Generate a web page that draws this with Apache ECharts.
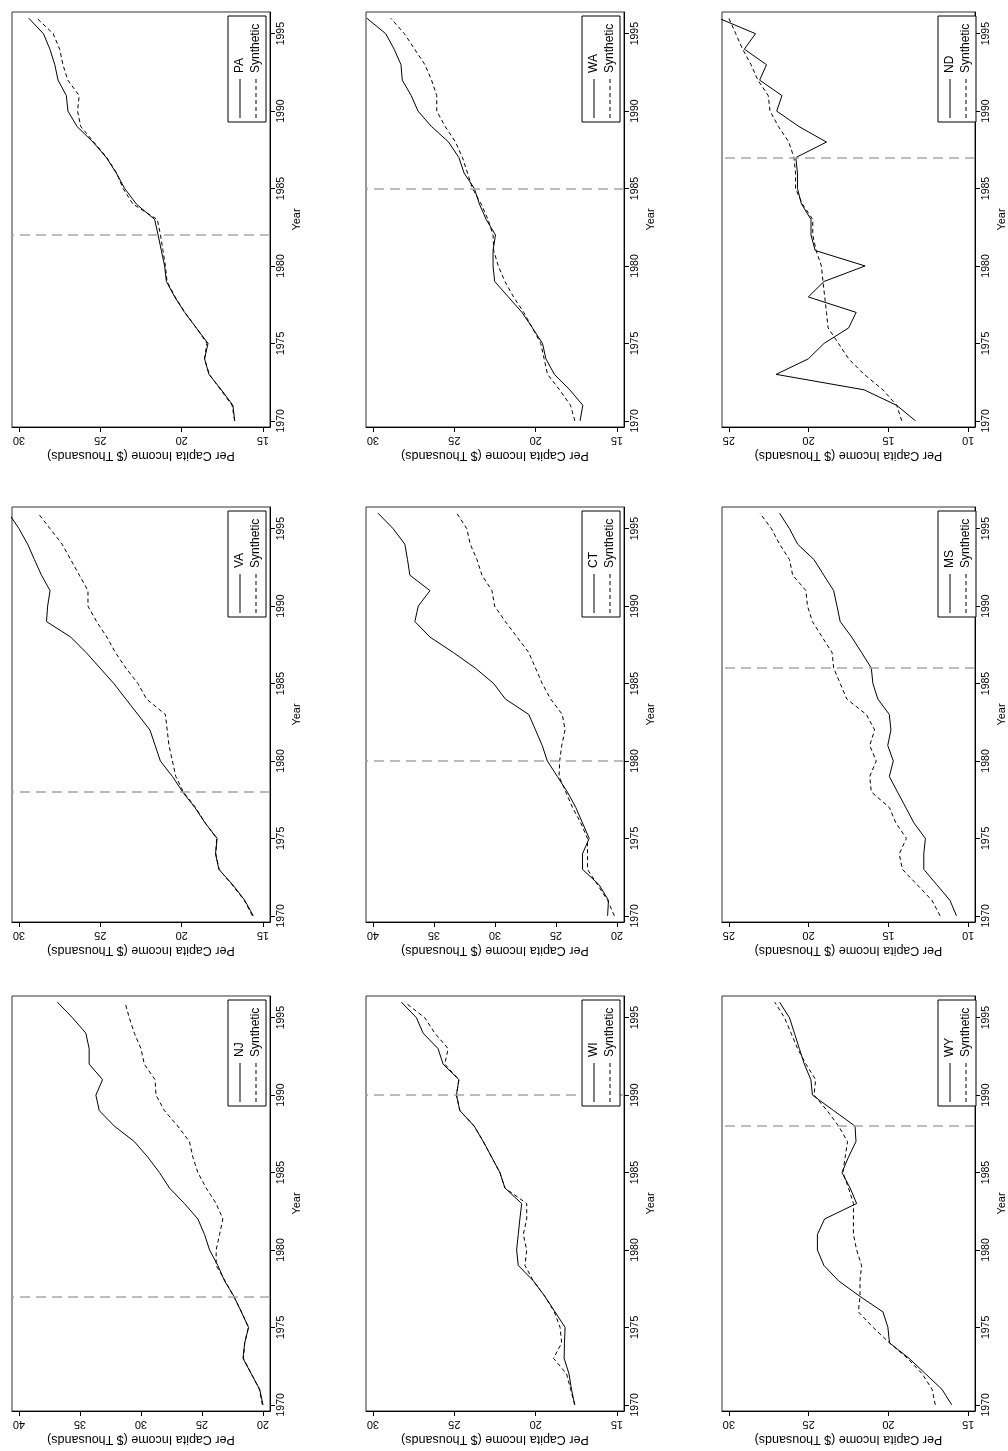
<!DOCTYPE html>
<html>
<head>
<meta charset="utf-8">
<title>Per Capita Income: treated states and synthetic controls</title>
<script src="https://cdn.jsdelivr.net/npm/echarts@6/dist/echarts.min.js"></script>
<style>
  html, body { margin: 0; padding: 0; background: #fff; }
  #chart { width: 1008px; height: 1451px; }
</style>
</head>
<body>
<div id="chart"></div>
<script>
// years on the (rotated) time axis
var years = [1970, 1971, 1972, 1973, 1974, 1975, 1976, 1977, 1978, 1979, 1980, 1981, 1982,
             1983, 1984, 1985, 1986, 1987, 1988, 1989, 1990, 1991, 1992, 1993, 1994, 1995, 1996];
var yearTicks = [1970, 1975, 1980, 1985, 1990, 1995];

// per capita income, $ thousands
var paActual    = [16.74, 16.85, 17.56, 18.32, 18.59, 18.38, 19.1, 19.82, 20.43, 20.94, 21.05, 21.25, 21.45, 21.66, 22.79, 23.5, 24.02, 24.63, 25.45, 26.43, 26.99, 27.09, 27.6, 27.8, 28.1, 28.5, 29.4];
var paSynthetic = [16.74, 16.9, 17.6, 18.3, 18.6, 18.45, 19.1, 19.8, 20.4, 20.9, 21.0, 21.15, 21.3, 21.5, 23.0, 23.6, 24.0, 24.6, 25.4, 26.2, 26.4, 26.3, 27.0, 27.3, 27.5, 27.9, 28.9];
var waActual    = [17.27, 17.1, 17.9, 18.85, 19.37, 19.58, 20.2, 20.84, 21.68, 22.52, 22.62, 22.62, 22.47, 23.04, 23.46, 23.77, 24.4, 24.72, 25.35, 26.4, 27.23, 27.65, 28.2, 28.28, 28.7, 29.22, 30.38];
var waSynthetic = [17.59, 17.86, 18.53, 19.27, 19.48, 19.69, 20.2, 20.73, 21.36, 21.89, 22.3, 22.58, 22.62, 22.93, 23.35, 23.88, 24.19, 24.5, 24.93, 25.56, 26.08, 26.08, 26.4, 26.81, 27.44, 28.07, 28.91];
var ndActual    = [13.3, 14.48, 16.52, 22.04, 20.02, 19.03, 17.49, 17.02, 20.02, 19.03, 16.46, 19.59, 19.85, 19.85, 20.45, 20.7, 20.7, 20.8, 18.88, 20.6, 22.0, 21.67, 23.07, 22.64, 24.03, 23.33, 25.64];
var ndSynthetic = [14.16, 14.48, 15.34, 16.52, 17.49, 18.13, 18.78, 18.88, 18.99, 19.1, 19.2, 19.53, 19.74, 19.74, 20.39, 20.82, 20.82, 20.92, 21.24, 21.89, 22.42, 22.53, 23.18, 23.61, 24.14, 24.57, 25.0];
var vaActual    = [15.6, 16.12, 16.86, 17.71, 17.92, 17.82, 18.56, 19.19, 19.94, 20.57, 21.31, 21.63, 21.95, 22.69, 23.43, 24.17, 25.02, 25.87, 26.82, 28.31, 28.24, 28.09, 28.62, 29.05, 29.47, 30.0, 30.64];
var vaSynthetic = [15.65, 16.15, 16.9, 17.7, 17.9, 17.85, 18.55, 19.15, 19.9, 20.36, 20.57, 20.78, 20.89, 21.0, 22.16, 22.69, 23.43, 24.07, 24.6, 25.23, 25.76, 25.76, 26.29, 26.82, 27.35, 28.09, 28.83];
var ctActual    = [20.77, 20.7, 21.46, 22.83, 22.83, 22.28, 22.83, 23.38, 24.07, 24.89, 25.71, 26.13, 26.68, 27.23, 29.15, 30.11, 31.62, 33.41, 35.33, 36.57, 36.29, 35.33, 36.98, 37.17, 37.39, 38.35, 39.59];
var ctSynthetic = [20.22, 20.77, 21.59, 22.42, 22.42, 22.42, 22.97, 23.65, 24.2, 24.75, 24.7, 24.53, 24.26, 24.48, 25.44, 26.13, 26.68, 27.23, 28.19, 29.15, 30.03, 30.25, 31.07, 31.48, 32.03, 32.31, 33.13];
var msActual    = [10.73, 11.14, 11.96, 12.78, 12.78, 12.68, 13.4, 13.91, 14.43, 14.94, 14.69, 15.04, 14.84, 14.94, 15.66, 15.97, 16.07, 16.68, 17.3, 18.02, 18.22, 18.43, 19.05, 19.66, 20.69, 21.2, 21.82];
var msSynthetic = [11.76, 12.27, 13.19, 14.12, 14.32, 13.87, 14.53, 14.94, 16.07, 16.17, 15.76, 16.17, 15.86, 16.38, 17.61, 18.02, 18.43, 18.53, 19.15, 19.76, 20.07, 20.17, 21.0, 21.2, 21.82, 22.33, 23.05];
var njActual    = [20.0, 20.27, 20.96, 21.64, 21.5, 21.18, 21.78, 22.38, 23.15, 23.7, 24.38, 24.79, 25.34, 26.44, 27.67, 28.49, 29.45, 30.55, 32.19, 33.42, 33.7, 33.15, 34.25, 34.25, 34.52, 35.62, 36.85];
var njSynthetic = [20.05, 20.3, 20.95, 21.6, 21.5, 21.2, 21.75, 22.4, 23.1, 23.84, 23.84, 23.56, 23.29, 23.84, 24.66, 25.34, 25.75, 26.03, 26.99, 28.08, 28.77, 28.85, 29.73, 30.0, 30.55, 30.96, 31.32];
var wiActual    = [17.6, 17.8, 17.95, 18.25, 18.23, 18.19, 18.81, 19.43, 20.14, 21.07, 21.17, 21.07, 20.97, 20.86, 21.89, 22.2, 22.71, 23.22, 23.78, 24.66, 24.87, 24.72, 25.69, 26.0, 26.92, 27.33, 28.25];
var wiSynthetic = [17.6, 17.85, 18.1, 18.9, 18.4, 18.5, 18.85, 19.43, 20.14, 20.66, 20.55, 20.76, 20.55, 20.55, 21.89, 22.2, 22.71, 23.22, 23.78, 24.66, 24.87, 24.72, 25.59, 25.38, 26.2, 26.82, 28.05];
var wyActual    = [16.03, 16.64, 17.67, 18.7, 19.93, 20.03, 20.34, 21.78, 23.12, 24.04, 24.45, 24.45, 24.0, 21.99, 22.4, 22.91, 22.5, 22.03, 22.09, 23.43, 24.76, 24.86, 25.27, 25.58, 25.89, 26.2, 26.82];
var wySynthetic = [17.06, 17.26, 17.88, 18.8, 19.93, 20.96, 21.88, 21.78, 21.78, 21.68, 21.99, 22.19, 22.19, 22.19, 22.5, 22.85, 22.71, 22.56, 23.12, 23.84, 24.66, 24.56, 25.17, 25.69, 26.1, 26.51, 27.12];

// treatment years (grey dashed line)
var paTreat = 1982, waTreat = 1985, ndTreat = 1987;
var vaTreat = 1978, ctTreat = 1980, msTreat = 1986;
var njTreat = 1977, wiTreat = 1990, wyTreat = 1988;

// income tick labels
var ticks15to30 = [15, 20, 25, 30];
var ticks10to25 = [10, 15, 20, 25];
var ticks20to40 = [20, 25, 30, 35, 40];

var panels = [
  { state: 'PA', actual: paActual, synth: paSynthetic, treat: paTreat, ticks: ticks15to30 },
  { state: 'WA', actual: waActual, synth: waSynthetic, treat: waTreat, ticks: ticks15to30 },
  { state: 'ND', actual: ndActual, synth: ndSynthetic, treat: ndTreat, ticks: ticks10to25 },
  { state: 'VA', actual: vaActual, synth: vaSynthetic, treat: vaTreat, ticks: ticks15to30 },
  { state: 'CT', actual: ctActual, synth: ctSynthetic, treat: ctTreat, ticks: ticks20to40 },
  { state: 'MS', actual: msActual, synth: msSynthetic, treat: msTreat, ticks: ticks10to25 },
  { state: 'NJ', actual: njActual, synth: njSynthetic, treat: njTreat, ticks: ticks20to40 },
  { state: 'WI', actual: wiActual, synth: wiSynthetic, treat: wiTreat, ticks: ticks15to30 },
  { state: 'WY', actual: wyActual, synth: wySynthetic, treat: wyTreat, ticks: ticks15to30 }
];

(function() {
    var myChart = echarts.init(document.getElementById('chart'));

    var font = 'Liberation Sans, Arial, Helvetica, sans-serif';
    var colLeft = [12, 366, 722];
    var rowTop = [12, 507, 996];
    var gridW = 258, gridH = 415;

    var grids = [], xAxes = [], yAxes = [], series = [], graphics = [];

    panels.forEach(function(p, i) {
        var left = colLeft[i % 3];
        var top = rowTop[Math.floor(i / 3)];
        var lo = p.ticks[0], hi = p.ticks[p.ticks.length - 1];
        var pad = (hi - lo) * 7 / 244;

        grids.push({
            left: left, top: top, width: gridW, height: gridH,
            show: true, borderColor: '#333', borderWidth: 1
        });

        // income axis: runs along the bottom, high values to the left
        xAxes.push({
            gridIndex: i,
            type: 'value',
            position: 'bottom',
            inverse: true,
            min: lo - pad,
            max: hi + pad,
            axisLine: { show: true, lineStyle: { color: '#000', width: 1 } },
            axisTick: { show: true, length: 5, customValues: p.ticks, lineStyle: { color: '#000' } },
            axisLabel: {
                customValues: p.ticks, rotate: 180, margin: 8,
                fontSize: 11, color: '#000', fontFamily: font,
                formatter: function(v) { return String(v); }
            },
            splitLine: { show: false },
            name: 'Per Capita Income ($ Thousands)',
            nameLocation: 'middle',
            nameRotate: 180,
            nameGap: 22,
            nameTextStyle: { fontSize: 12.5, color: '#000', fontFamily: font }
        });

        // year axis: on the right, 1970 at the bottom
        yAxes.push({
            gridIndex: i,
            type: 'value',
            position: 'right',
            min: 1969.6,
            max: 1996.4,
            axisLine: { show: true, lineStyle: { color: '#000', width: 1 } },
            axisTick: { show: true, length: 5, customValues: yearTicks, lineStyle: { color: '#000' } },
            axisLabel: {
                customValues: yearTicks, rotate: 90, margin: 6,
                fontSize: 10.5, color: '#000', fontFamily: font,
                formatter: function(v) { return String(v); }
            },
            splitLine: { show: false },
            name: 'Year',
            nameLocation: 'middle',
            nameRotate: 90,
            nameGap: 21,
            nameTextStyle: { fontSize: 11, color: '#000', fontFamily: font }
        });

        series.push({
            name: p.state,
            type: 'line',
            xAxisIndex: i, yAxisIndex: i,
            showSymbol: false,
            data: years.map(function(y, k) { return [p.actual[k], y]; }),
            lineStyle: { color: '#000', width: 1 },
            markLine: {
                silent: true,
                symbol: 'none',
                label: { show: false },
                lineStyle: { color: '#a6a6a6', width: 1.5, type: [10, 6] },
                data: [{ yAxis: p.treat }]
            },
            z: 3
        });
        series.push({
            name: 'Synthetic ' + p.state,
            type: 'line',
            xAxisIndex: i, yAxisIndex: i,
            showSymbol: false,
            data: years.map(function(y, k) { return [p.synth[k], y]; }),
            lineStyle: { color: '#000', width: 1, type: [4, 3] },
            z: 3
        });

        // legend box, drawn rotated like the rest of the panel
        graphics.push({
            type: 'group',
            x: left + 216,
            y: top + 4,
            children: [
                { type: 'rect', shape: { x: 0, y: 0, width: 38, height: 106 },
                  style: { fill: '#fff', stroke: '#000', lineWidth: 1 }, z: 10 },
                { type: 'line', shape: { x1: 12, y1: 63, x2: 12, y2: 102 },
                  style: { stroke: '#000', lineWidth: 1 }, z: 11 },
                { type: 'line', shape: { x1: 28, y1: 63, x2: 28, y2: 102 },
                  style: { stroke: '#000', lineWidth: 1, lineDash: [4, 3] }, z: 11 },
                { type: 'text', x: 12, y: 57, rotation: Math.PI / 2, z: 11,
                  style: { text: p.state, fontSize: 12, fontFamily: font, fill: '#000',
                           align: 'left', verticalAlign: 'middle' } },
                { type: 'text', x: 28, y: 57, rotation: Math.PI / 2, z: 11,
                  style: { text: 'Synthetic', fontSize: 12, fontFamily: font, fill: '#000',
                           align: 'left', verticalAlign: 'middle' } }
            ]
        });
    });

    var option = {
        animation: false,
        backgroundColor: '#fff',
        textStyle: { fontFamily: font },
        grid: grids,
        xAxis: xAxes,
        yAxis: yAxes,
        series: series,
        graphic: { elements: graphics }
    };

    myChart.setOption(option);
    window.addEventListener('resize', function() {
        myChart.resize();
    });
})();
</script>
</body>
</html>
